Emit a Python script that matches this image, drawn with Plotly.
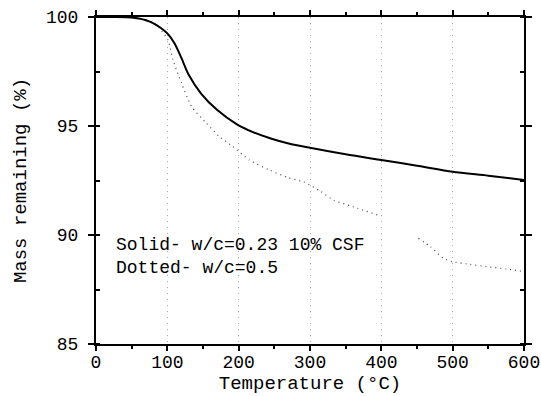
import plotly.graph_objects as go

# Solid curve: w/c = 0.23, 10% CSF
solid_temp = [0, 25, 50, 60, 70, 80, 90, 100, 110, 120, 130, 147, 170, 197, 220, 245,
              270, 300, 350, 400, 450, 500, 550, 600]
solid_mass = [100.0, 100.0, 99.98, 99.93, 99.85, 99.72, 99.52, 99.25, 98.8, 98.1, 97.35,
              96.5, 95.73, 95.09, 94.72, 94.43, 94.2, 94.0, 93.7, 93.44, 93.18, 92.9, 92.72, 92.52]

# Dotted curve: w/c = 0.5 (gap between ~400 and ~450 °C as in the original)
dotted_temp = [0, 50, 70, 80, 90, 101, 108, 120, 134, 155, 173, 192, 215, 243, 270, 291,
               315, 333, 360, 399, 425, 452, 469, 487, 499, 525, 548, 575, 600]
dotted_mass = [100.0, 99.98, 99.88, 99.75, 99.45, 98.94, 98.03, 96.96, 95.89, 95.12, 94.51,
               94.05, 93.44, 92.98, 92.62, 92.44, 92.0, 91.6, 91.3, 90.87, None, 89.85,
               89.46, 88.93, 88.78, 88.65, 88.55, 88.44, 88.32]

x_ticks = [0, 100, 200, 300, 400, 500, 600]
y_ticks = [85, 90, 95, 100]

label_solid = "Solid- w/c=0.23 10% CSF"
label_dotted = "Dotted- w/c=0.5"

FONT = "Liberation Mono"

fig = go.Figure()
fig.add_trace(go.Scatter(x=dotted_temp, y=dotted_mass, mode="lines",
                         line=dict(color="#444444", width=1.2, dash="1px,4px",
                                   shape="spline", smoothing=0.6),
                         connectgaps=False, showlegend=False))
fig.add_trace(go.Scatter(x=solid_temp, y=solid_mass, mode="lines",
                         line=dict(color="black", width=2, shape="spline", smoothing=0.8),
                         showlegend=False))

fig.add_annotation(x=25, y=89.54, text=label_solid, showarrow=False,
                   xanchor="left", yanchor="middle",
                   font=dict(family=FONT, size=18, color="black"))
fig.add_annotation(x=25, y=88.49, text=label_dotted, showarrow=False,
                   xanchor="left", yanchor="middle",
                   font=dict(family=FONT, size=18, color="black"))

fig.update_xaxes(range=[0, 600], tickvals=x_ticks, ticktext=[str(v) for v in x_ticks],
                 showline=True, linecolor="black", linewidth=2, mirror="allticks",
                 ticks="outside", ticklen=5, tickwidth=1.5, tickcolor="black",
                 ticklabelstandoff=-5,
                 minor=dict(dtick=50, tick0=0, ticks="outside", ticklen=3, tickcolor="black"),
                 showgrid=True, gridcolor="#aaaaaa", gridwidth=1, griddash="1px,5px",
                 zeroline=False,
                 tickfont=dict(family=FONT, size=18, color="black"),
                 title=dict(text="Temperature (°C)", standoff=2,
                            font=dict(family=FONT, size=19, color="black")))
fig.update_yaxes(range=[85, 100], tickvals=y_ticks, ticktext=[str(v) for v in y_ticks],
                 showline=True, linecolor="black", linewidth=2, mirror="allticks",
                 ticks="outside", ticklen=6, tickwidth=1.5, tickcolor="black",
                 ticklabelstandoff=6,
                 minor=dict(dtick=2.5, tick0=85, ticks="inside", ticklen=4, tickcolor="black"),
                 showgrid=False, zeroline=False,
                 tickfont=dict(family=FONT, size=18, color="black"),
                 title=dict(text="Mass remaining (%)", standoff=14,
                            font=dict(family=FONT, size=19, color="black")))

fig.update_layout(width=541, height=396,
                  margin=dict(l=96, r=17, t=17, b=52, autoexpand=False),
                  paper_bgcolor="white", plot_bgcolor="white")

fig.write_html("out.html")
